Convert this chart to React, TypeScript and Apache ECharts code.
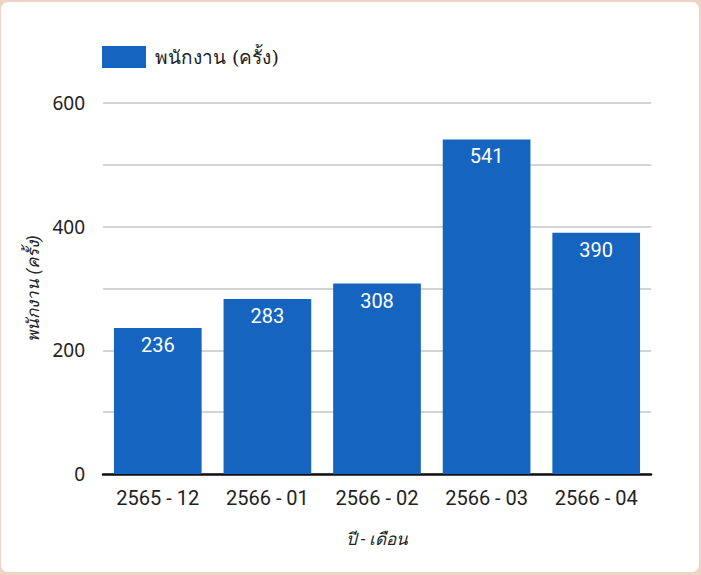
import React, { useEffect, useRef } from "react";
import * as echarts from "echarts";

const categories = ["2565 - 12", "2566 - 01", "2566 - 02", "2566 - 03", "2566 - 04"];
const values = [236, 283, 308, 541, 390];
const seriesName = "พนักงาน (ครั้ง)";
const xName = "ปี - เดือน";
const yName = "พนักงาน (ครั้ง)";

export default function App() {
  const ref = useRef<HTMLDivElement>(null);
  useEffect(() => {
    document.body.style.margin = "0";
    const chart = echarts.init(ref.current!, null, { renderer: "svg" });
    chart.setOption({
      animation: false,
      backgroundColor: "#eed4c4",
      graphic: [
        {
          type: "rect",
          z: -10,
          silent: true,
          shape: { x: 1, y: 2, width: 698, height: 570, r: 7 },
          style: { fill: "#ffffff" },
        },
      ],
      legend: {
        left: 102,
        top: 46,
        padding: 0,
        itemWidth: 44,
        itemHeight: 22,
        itemGap: 10,
        icon: "rect",
        textStyle: { fontSize: 19, color: "#222", fontFamily: "'DejaVu Serif', serif", padding: [0, 0, 0, 4] },
        data: [seriesName],
      },
      grid: { left: 103, right: 50, top: 103, bottom: 101 },
      xAxis: {
        type: "category",
        data: categories,
        name: xName,
        nameLocation: "middle",
        nameGap: 56,
        nameTextStyle: { fontSize: 17, fontStyle: "italic", color: "#222", fontFamily: "Roboto, sans-serif" },
        axisLine: { lineStyle: { color: "#111", width: 2.5 } },
        axisTick: { show: false },
        axisLabel: { fontSize: 20, color: "#222", margin: 14, fontFamily: "Roboto, sans-serif" },
      },
      yAxis: {
        type: "value",
        min: 0,
        max: 600,
        interval: 100,
        name: yName,
        nameLocation: "middle",
        nameGap: 59,
        nameRotate: 90,
        nameTextStyle: { fontSize: 17, fontStyle: "italic", color: "#222", fontFamily: "Roboto, sans-serif" },
        axisLine: { show: false },
        axisTick: { show: false },
        axisLabel: {
          fontSize: 19,
          color: "#222",
          margin: 18,
          fontFamily: "'Noto Sans', sans-serif",
          formatter: (v: number) => (v % 200 === 0 ? String(v) : ""),
        },
        splitLine: { lineStyle: { color: "#d4d4d4", width: 2 } },
      },
      series: [
        {
          name: seriesName,
          type: "bar",
          data: values,
          barWidth: "80%",
          itemStyle: { color: "#1565c0" },
          label: {
            show: true,
            position: "insideTop",
            distance: 7,
            color: "#fff",
            fontSize: 20,
            fontFamily: "Roboto, sans-serif",
          },
        },
      ],
    });
    return () => chart.dispose();
  }, []);
  return <div ref={ref} style={{ width: 701, height: 575 }} />;
}
